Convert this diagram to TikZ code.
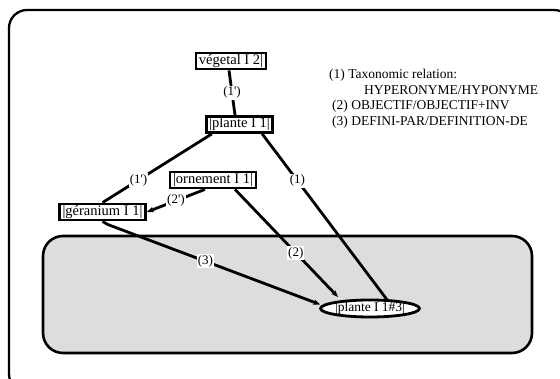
\documentclass[tikz,border=0pt]{standalone}
\usepackage{fontspec}
\setmainfont{Liberation Serif}
\usetikzlibrary{shapes.geometric,arrows.meta,calc}
\definecolor{panel}{RGB}{221,221,221}
\newcommand{\pr}{\textquotesingle}
\begin{document}
\begin{tikzpicture}[x=1pt,y=-1pt,
  wbox/.style={draw=black,line width=2.8pt,fill=white,inner xsep=3pt,inner ysep=1.5pt,
    text height=10pt,text depth=3pt,font=\fontsize{14.5}{16}\selectfont},
  link/.style={line width=2.8pt,draw=black},
  lab/.style={fill=white,inner sep=1pt,font=\fontsize{13}{15}\selectfont},
  legend/.style={anchor=west,inner sep=0pt,font=\fontsize{13.5}{16}\selectfont},
  tip/.style={-{Stealth[length=7pt,width=5.5pt]}}]
\useasboundingbox (0,0) rectangle (560,379);
\begin{scope}
  \clip (0,0) rectangle (560,379);
  \draw[line width=2.3pt,rounded corners=18pt] (9,10) rectangle (572,392);
\end{scope}
\draw[line width=2.6pt,fill=panel,rounded corners=20pt] (43,236) rectangle (532,353);
% nodes
\node[wbox] (v) at (231,61) {végetal I 2|};
\node[wbox] (p) at (239.5,124.5) {|plante I 1|};
\node[wbox] (o) at (213,180) {|ornement I 1|};
\node[wbox] (g) at (102.5,212) {|géranium I 1|};
\node[wbox,ellipse,inner xsep=0pt,inner ysep=0pt,text height=9pt,text depth=2.5pt,
  minimum width=94pt,minimum height=17pt,font=\fontsize{13.5}{15}\selectfont] (e) at (370,308.5) {|plante I 1\#3|};
% legend
\node[legend] (l1) at (329,75) {(1) Taxonomic relation:};
\node[legend] (l2) at (364,90) {HYPERONYME/HYPONYME};
\node[legend] (l3) at (332,106) {(2) OBJECTIF/OBJECTIF+INV};
\node[legend] (l4) at (332,122) {(3) DEFINI-PAR/DEFINITION-DE};
% connectors
\draw[link] ($(v.south)+(-2,0)$) -- node[lab]{(1\pr)} ($(p.north)+(-4.5,0)$);
\draw[link] ($(p.south west)+(7,0)$) -- node[lab,pos=0.67]{(1\pr)} (g.north);
\draw[link] ($(p.south east)+(-12,0)$) -- node[lab,pos=0.28]{(1)} ($(e.center)+(18,-7.5)$);
\draw[link,tip] ($(o.south)+(-8,0)$) -- node[lab,pos=0.5]{(2\pr)} (g.east);
\draw[link,tip] ($(o.south)+(22,0)$) -- node[lab,pos=0.59]{(2)} ($(e.center)+(-32,-11.5)$);
\draw[link,tip] (g.south) -- ++(5,3) -- node[lab,pos=0.46]{(3)} ($(e.west)+(1,-4)$);
\end{tikzpicture}
\end{document}
